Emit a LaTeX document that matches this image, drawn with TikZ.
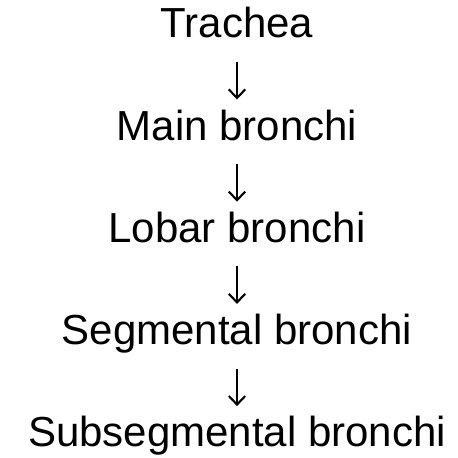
\documentclass[tikz,border=0pt]{standalone}
\usepackage{fontspec}
\setmainfont{Liberation Sans}
\begin{document}
\begin{tikzpicture}[x=1pt,y=1pt,
  level/.style={inner sep=0pt,anchor=base,font=\fontsize{42}{50}\selectfont},
  stem/.style={line width=1.7pt},
  head/.style={line width=2.1pt,line join=miter}]
  \useasboundingbox (0,0) rectangle (458,458);
  % baselines spaced 102.2pt apart, measured from the top edge
  \node[level] (trachea) at (237,458-38.0)  {Trachea};
  \node[level] (main)    at (237,458-140.2) {Main bronchi};
  \node[level] (lobar)   at (237,458-242.4) {Lobar bronchi};
  \node[level] (seg)     at (237,458-344.6) {Segmental bronchi};
  \node[level] (subseg)  at (237,458-446.8) {Subsegmental bronchi};
  % down arrows set between the levels, from 24pt to 61pt below each baseline
  \foreach \a/\b in {trachea/main,main/lobar,lobar/seg,seg/subseg}{
    \coordinate (\a-top) at ([yshift=-24pt]\a.base);
    \coordinate (\a-tip) at ([yshift=-60pt]\a.base);
    \draw[stem] (\a-top) -- ([yshift=1pt]\a-tip);
    \draw[head] ([xshift=-8.2pt,yshift=8.6pt]\a-tip) -- (\a-tip)
                -- ([xshift=8.2pt,yshift=8.6pt]\a-tip);
  }
\end{tikzpicture}
\end{document}
